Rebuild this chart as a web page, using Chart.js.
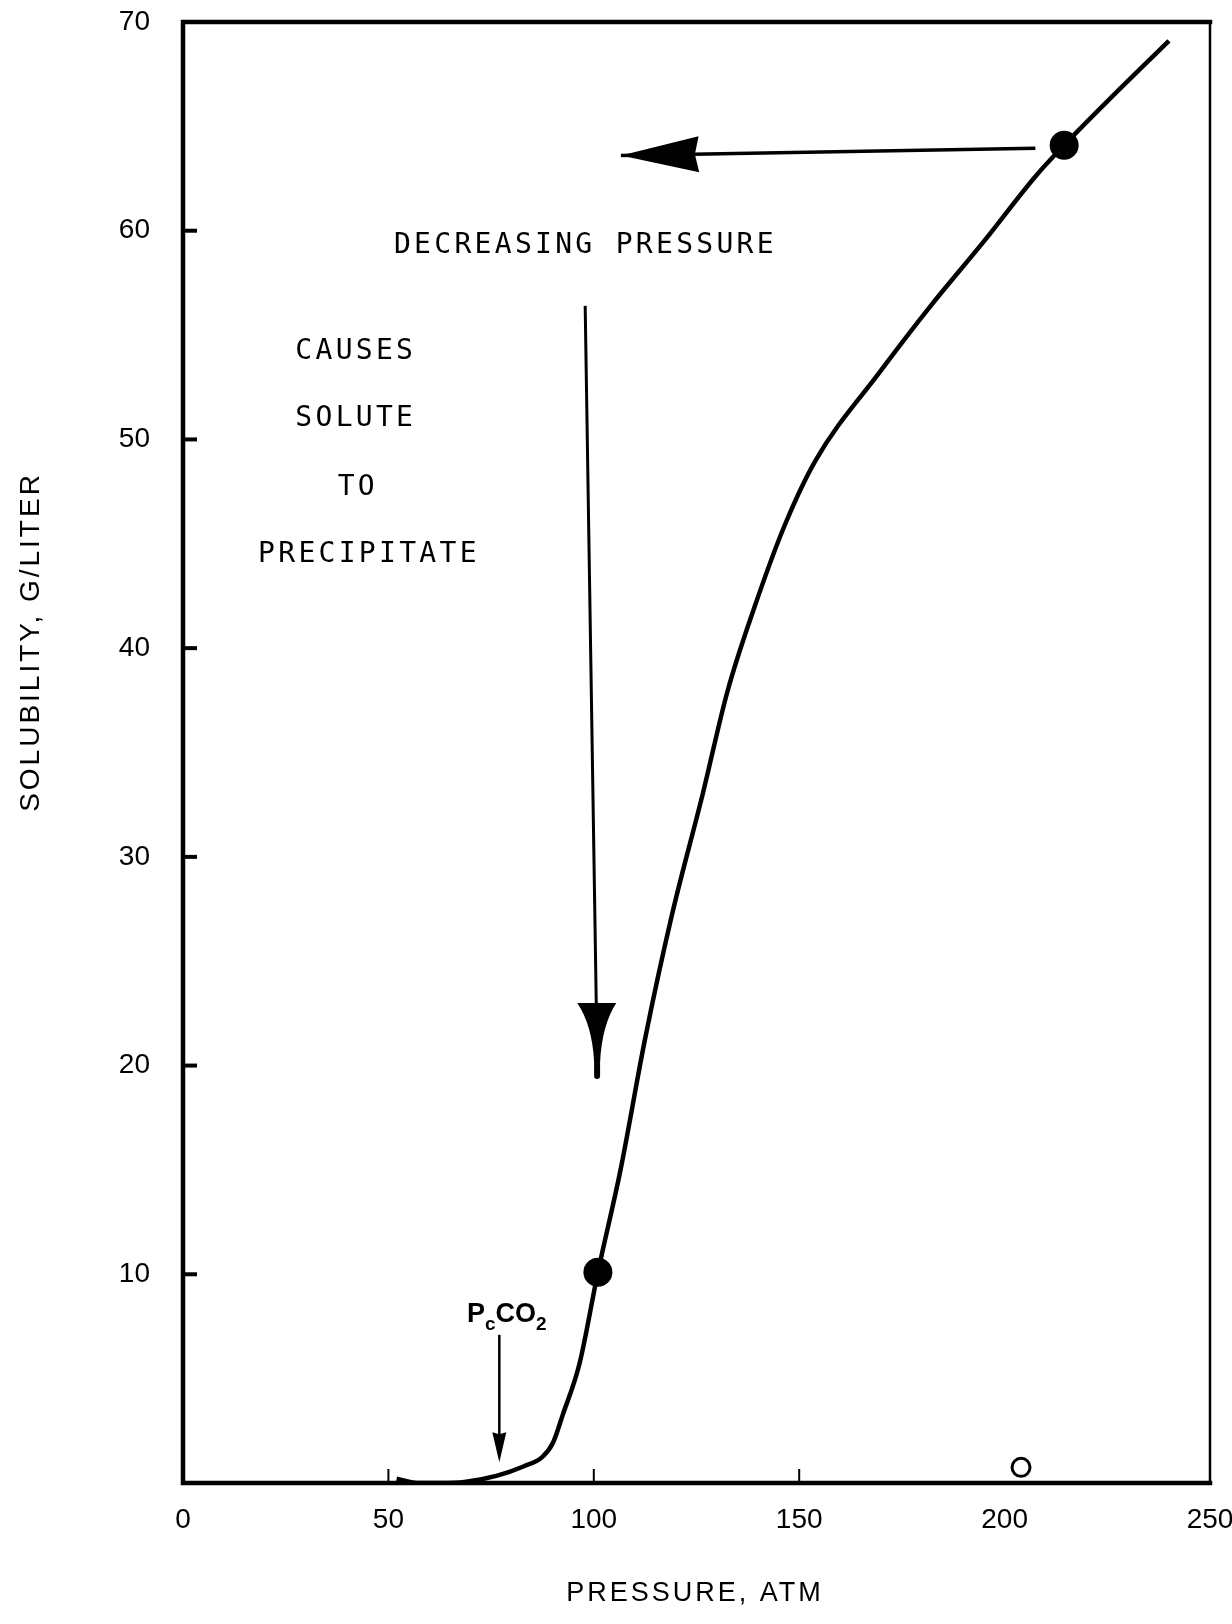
<!DOCTYPE html>
<html>
<head>
<meta charset="utf-8">
<script src="https://cdn.jsdelivr.net/npm/chart.js"></script>
<style>
html, body { margin: 0; padding: 0; background: #fff; }
#caixa { width: 1232px; height: 1624px; }
</style>
</head>
<body>
<div id="caixa"><canvas id="grafico" width="1232" height="1624"></canvas></div>
<script>
// Curva de solubilidade
const pressao = [52, 57, 63, 68.5, 76.5, 83, 87.5, 90, 92.5, 96.5, 101, 106.5, 112.5, 119, 126.5, 132.5, 139, 146.5, 154, 169.5, 182, 195, 207.5, 214.5, 225, 240];
const solubilidade = [0.2, 0, 0, 0.05, 0.35, 0.8, 1.25, 1.9, 3.3, 5.7, 10.1, 15.0, 21.3, 27.2, 33.0, 37.9, 41.9, 45.9, 49.0, 53.2, 56.4, 59.5, 62.6, 64.1, 66.2, 69.1];

// Pontos marcados
const pontosP = [101, 214.5];
const pontosS = [10.1, 64.1];
const circuloP = [204];
const circuloS = [0.75];

// Eixos
const eixoX = [0, 50, 100, 150, 200, 250];
const eixoY = [0, 10, 20, 30, 40, 50, 60, 70];
const marcasX = [50, 100, 150];
const marcasY = [10, 20, 30, 40, 50, 60];

// Setas (pressão, solubilidade)
const setaHorX = [207.5, 106.6];
const setaHorY = [63.95, 63.6];
const setaVertX = [97.9, 100.6, 100.8, 100.8]; // topo, base da ponta, ponta, cauda
const setaVertY = [56.4, 23.0, 20.2, 19.5];
const setaPcX = [77, 77];
const setaPcY = [7.1, 1.0];

// Textos
const textos = ['DECREASING PRESSURE', 'CAUSES', 'SOLUTE', 'TO', 'PRECIPITATE'];
const textosX = [97.6, 41.7, 41.7, 42.2, 44.9];
const textosY = [59.3, 54.2, 51.0, 47.7, 44.5];
const rotuloPcX = 78.8;
const rotuloPcY = 7.7;

function ponta(ctx, tx, ty, fx, fy, comp, meia, entalhe) {
    const d = Math.hypot(fx - tx, fy - ty);
    const ux = (fx - tx) / d, uy = (fy - ty) / d;
    const nx = -uy, ny = ux;
    ctx.beginPath();
    ctx.moveTo(tx, ty);
    ctx.lineTo(tx + ux * comp + nx * meia, ty + uy * comp + ny * meia);
    ctx.lineTo(tx + ux * (comp - entalhe), ty + uy * (comp - entalhe));
    ctx.lineTo(tx + ux * comp - nx * meia, ty + uy * comp - ny * meia);
    ctx.closePath();
    ctx.fill();
}

const desenhos = {
    id: 'desenhos',
    afterDatasetsDraw(chart) {
        const ctx = chart.ctx;
        const a = chart.chartArea;
        const x = chart.scales.x, y = chart.scales.y;
        ctx.save();
        ctx.strokeStyle = '#000';
        ctx.fillStyle = '#000';
        ctx.lineCap = 'square';

        // moldura
        ctx.lineWidth = 4.5;
        ctx.beginPath();
        ctx.moveTo(a.right, a.top);
        ctx.lineTo(a.left, a.top);
        ctx.lineTo(a.left, a.bottom);
        ctx.lineTo(a.right, a.bottom);
        ctx.stroke();
        ctx.lineWidth = 2.5;
        ctx.beginPath();
        ctx.moveTo(a.right, a.top);
        ctx.lineTo(a.right, a.bottom);
        ctx.stroke();

        // marcas internas
        ctx.lineCap = 'butt';
        ctx.lineWidth = 4;
        marcasY.forEach(v => {
            const py = y.getPixelForValue(v);
            ctx.beginPath();
            ctx.moveTo(a.left, py);
            ctx.lineTo(a.left + 14, py);
            ctx.stroke();
        });
        ctx.lineWidth = 2;
        marcasX.forEach(v => {
            const px = x.getPixelForValue(v);
            ctx.beginPath();
            ctx.moveTo(px, a.bottom);
            ctx.lineTo(px, a.bottom - 14);
            ctx.stroke();
        });

        // seta horizontal
        const h0x = x.getPixelForValue(setaHorX[0]), h0y = y.getPixelForValue(setaHorY[0]);
        const h1x = x.getPixelForValue(setaHorX[1]), h1y = y.getPixelForValue(setaHorY[1]);
        ctx.lineWidth = 3.5;
        ctx.beginPath();
        ctx.moveTo(h0x, h0y);
        ctx.lineTo(h1x, h1y);
        ctx.stroke();
        ponta(ctx, h1x, h1y, h0x, h0y, 78, 18, 4);

        // seta vertical
        const vx = setaVertX.map(v => x.getPixelForValue(v));
        const vy = setaVertY.map(v => y.getPixelForValue(v));
        ctx.lineWidth = 3;
        ctx.beginPath();
        ctx.moveTo(vx[0], vy[0]);
        ctx.lineTo(vx[1], vy[1]);
        ctx.stroke();
        ctx.beginPath();
        ctx.moveTo(vx[1] - 19, vy[1]);
        ctx.lineTo(vx[1] + 20, vy[1]);
        ctx.quadraticCurveTo(vx[2] + 5, vy[1] + 22, vx[2] + 3, vy[2]);
        ctx.lineTo(vx[2] - 3, vy[2]);
        ctx.quadraticCurveTo(vx[2] - 5, vy[1] + 22, vx[1] - 19, vy[1]);
        ctx.closePath();
        ctx.fill();
        ctx.lineWidth = 6;
        ctx.lineCap = 'round';
        ctx.beginPath();
        ctx.moveTo(vx[2], vy[2] - 4);
        ctx.lineTo(vx[3], vy[3]);
        ctx.stroke();
        ctx.lineCap = 'butt';

        // seta PcCO2
        const p0x = x.getPixelForValue(setaPcX[0]), p0y = y.getPixelForValue(setaPcY[0]);
        const p1x = x.getPixelForValue(setaPcX[1]), p1y = y.getPixelForValue(setaPcY[1]);
        ctx.lineWidth = 2.5;
        ctx.beginPath();
        ctx.moveTo(p0x, p0y);
        ctx.lineTo(p1x, p1y - 20);
        ctx.stroke();
        ponta(ctx, p1x, p1y, p0x, p0y, 30, 7, 2);

        // textos
        ctx.font = '28px "DejaVu Sans Mono"';
        ctx.letterSpacing = '3.3px';
        ctx.textAlign = 'center';
        ctx.textBaseline = 'middle';
        textos.forEach((t, i) => {
            ctx.fillText(t, x.getPixelForValue(textosX[i]) + 1.5, y.getPixelForValue(textosY[i]));
        });

        // rótulo PcCO2
        ctx.letterSpacing = '0px';
        ctx.textAlign = 'left';
        ctx.textBaseline = 'alphabetic';
        const grande = 'bold 27px "Liberation Sans"', pequeno = 'bold 19px "Liberation Sans"';
        const partes = [['P', grande, 0], ['c', pequeno, 8], ['CO', grande, 0], ['2', pequeno, 8]];
        let largura = 0;
        partes.forEach(p => { ctx.font = p[1]; largura += ctx.measureText(p[0]).width; });
        let cx = x.getPixelForValue(rotuloPcX) - largura / 2;
        const cy = y.getPixelForValue(rotuloPcY);
        partes.forEach(p => {
            ctx.font = p[1];
            ctx.fillText(p[0], cx, cy + p[2]);
            cx += ctx.measureText(p[0]).width;
        });

        // títulos dos eixos
        ctx.font = '27px "Liberation Sans"';
        ctx.letterSpacing = '3px';
        ctx.textAlign = 'center';
        ctx.textBaseline = 'middle';
        ctx.fillText('PRESSURE, ATM', 695, 1594);
        ctx.font = '28px "Liberation Sans"';
        ctx.translate(31, 642);
        ctx.rotate(-Math.PI / 2);
        ctx.fillText('SOLUBILITY, G/LITER', 0, 0);
        ctx.restore();
    }
};

const ctxGrafico = document.getElementById('grafico').getContext('2d');
const grafico = new Chart(ctxGrafico, {
    type: 'line',
    data: {
        datasets: [{
            data: pressao.map((p, i) => ({ x: p, y: solubilidade[i] })),
            borderColor: '#000',
            borderWidth: 4.5,
            pointRadius: 0,
            cubicInterpolationMode: 'monotone',
            fill: false
        }, {
            data: pontosP.map((p, i) => ({ x: p, y: pontosS[i] })),
            showLine: false,
            pointRadius: 14.5,
            pointBackgroundColor: '#000',
            pointBorderColor: '#000',
            pointBorderWidth: 0
        }, {
            data: circuloP.map((p, i) => ({ x: p, y: circuloS[i] })),
            showLine: false,
            pointRadius: 9,
            pointBackgroundColor: '#fff',
            pointBorderColor: '#000',
            pointBorderWidth: 3,
            clip: false
        }]
    },
    options: {
        responsive: false,
        animation: false,
        layout: { padding: { left: 0, right: 22, top: 22, bottom: 0 } },
        plugins: { legend: { display: false }, tooltip: { enabled: false } },
        scales: {
            x: {
                type: 'linear',
                min: 0,
                max: 250,
                afterBuildTicks: s => { s.ticks = eixoX.map(v => ({ value: v })); },
                afterFit: s => { s.height = 141; s.paddingLeft = 0; s.paddingRight = 0; },
                grid: { display: false, drawTicks: false },
                border: { display: false },
                ticks: {
                    padding: 20,
                    color: '#000',
                    font: { family: 'Liberation Sans', size: 28 },
                    maxRotation: 0
                }
            },
            y: {
                min: 0,
                max: 70,
                afterBuildTicks: s => { s.ticks = eixoY.map(v => ({ value: v })); },
                afterFit: s => { s.width = 183; s.paddingTop = 0; s.paddingBottom = 0; },
                grid: { display: false, drawTicks: false },
                border: { display: false },
                ticks: {
                    padding: 33,
                    color: '#000',
                    font: { family: 'Liberation Sans', size: 28 },
                    callback: v => (v === 0 ? '' : v)
                }
            }
        }
    },
    plugins: [desenhos]
});
</script>
</body>
</html>
